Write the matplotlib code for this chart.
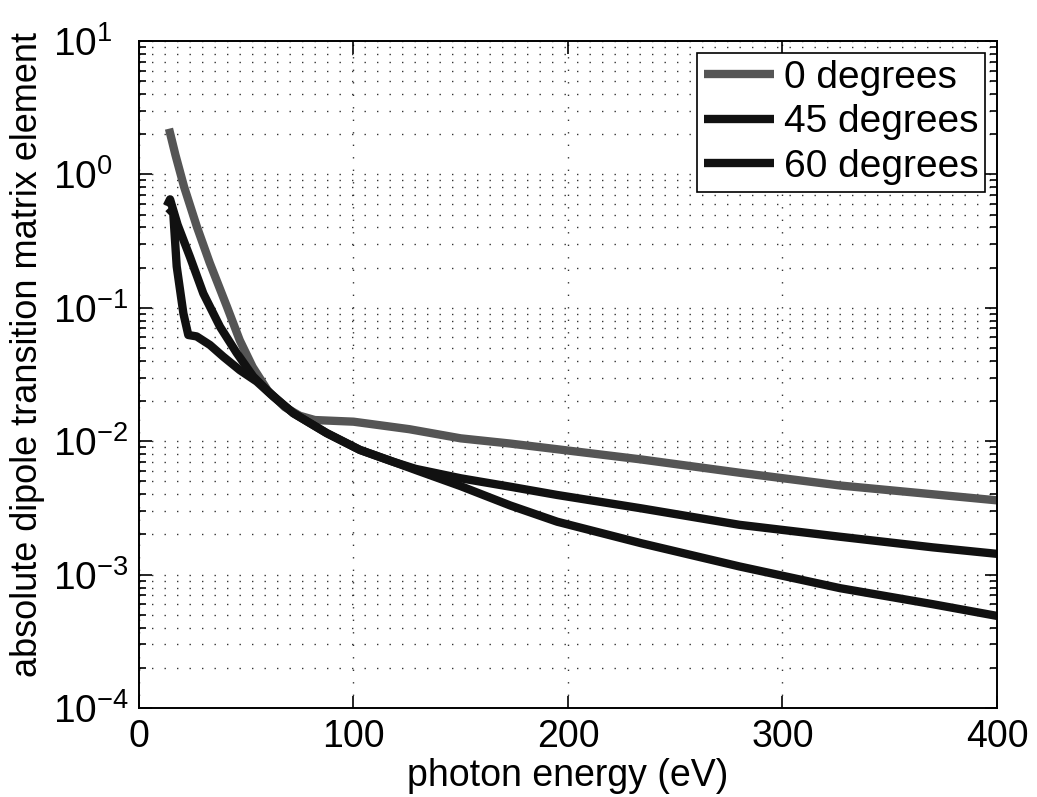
import numpy as np
import matplotlib
matplotlib.use("Agg")
import matplotlib.pyplot as plt
from matplotlib.ticker import LogLocator, NullFormatter, FixedLocator

# values (photon energy in eV, |dipole matrix element|)
energy_0 = [14, 17, 21, 27, 33, 41, 47, 53, 60, 68, 75, 82, 100, 126, 150, 173, 195, 234, 280, 327, 370, 400]
dipole_0 = [2.2, 1.4, 0.81, 0.405, 0.217, 0.102, 0.057, 0.036, 0.024, 0.018, 0.0155, 0.0144, 0.014, 0.0123,
            0.0105, 0.0096, 0.0087, 0.0073, 0.0058, 0.00465, 0.0040, 0.0036]

energy_45 = [13, 14.5, 18, 23.8, 30, 37.8, 45.5, 53.3, 61, 72, 87.5, 103, 118.6, 129, 150, 173, 195, 234,
             280, 327, 370, 400]
dipole_45 = [0.58, 0.65, 0.42, 0.24, 0.128, 0.072, 0.046, 0.0305, 0.023, 0.0162, 0.0115, 0.0086, 0.0070,
             0.0062, 0.00527, 0.00456, 0.00395, 0.00314, 0.00236, 0.00192, 0.00160, 0.00143]

energy_60 = [13.7, 16, 17.6, 20.7, 23, 26.9, 33.1, 39.3, 47.1, 54.9, 62.6, 72, 87.5, 103, 118.6, 130, 150,
             173, 195, 234, 280, 327, 370, 400]
dipole_60 = [0.557, 0.51, 0.204, 0.091, 0.0625, 0.061, 0.0526, 0.043, 0.034, 0.028, 0.0216, 0.0162, 0.0115,
             0.0086, 0.0070, 0.0060, 0.0046, 0.0033, 0.00249, 0.00172, 0.00115, 0.00079, 0.00060, 0.00049]

labels = ["0 degrees", "45 degrees", "60 degrees"]
colors = ["#555555", "#111111", "#111111"]

plt.rcParams["font.family"] = ["Liberation Sans", "DejaVu Sans"]
plt.rcParams["mathtext.fontset"] = "custom"
plt.rcParams["mathtext.rm"] = "Liberation Sans"
plt.rcParams["mathtext.it"] = "Liberation Sans"

fig = plt.figure(figsize=(10.37, 7.97), dpi=100)
ax = fig.add_axes([0.134, 0.1117, 0.8274, 0.8369])

for x, y, lab, c in zip([energy_0, energy_45, energy_60], [dipole_0, dipole_45, dipole_60], labels, colors):
    ax.plot(x, y, color=c, lw=6, label=lab, solid_capstyle="butt", solid_joinstyle="round")

ax.set_yscale("log")
ax.set_xlim(0, 400)
ax.set_ylim(1e-4, 1e1)
ax.xaxis.set_major_locator(FixedLocator([0, 100, 200, 300, 400]))
ax.yaxis.set_major_locator(LogLocator(base=10, numticks=10))
ax.yaxis.set_minor_locator(LogLocator(base=10, subs=np.arange(2, 10), numticks=20))
ax.yaxis.set_minor_formatter(NullFormatter())

grid_kw = dict(color="#333333", linestyle=(0, (1, 8)), linewidth=1.0)
ax.grid(True, which="major", axis="both", **grid_kw)
ax.grid(True, which="minor", axis="y", **grid_kw)

ax.tick_params(which="both", direction="in", top=True, right=True, width=1.2)
ax.tick_params(which="major", length=9)
ax.tick_params(which="minor", length=5)
ax.tick_params(axis="x", labelsize=27, pad=8)
ax.tick_params(axis="y", labelsize=28, pad=62)
plt.setp(ax.get_yticklabels(), ha="left")
for s in ax.spines.values():
    s.set_linewidth(1.4)

ax.set_xlabel("photon energy (eV)", fontsize=27, labelpad=2)
ax.set_ylabel("absolute dipole transition matrix element", fontsize=26)
ax.yaxis.set_label_coords(-0.109, 0.53)

leg = ax.legend(loc="upper right", fontsize=28, frameon=True, fancybox=False, edgecolor="black",
                framealpha=1, handlelength=1.8, handletextpad=0.25, labelspacing=0.22,
                borderpad=0.18, borderaxespad=0.3)
leg.get_frame().set_linewidth(1.2)

fig.savefig("out.png", dpi=100)
